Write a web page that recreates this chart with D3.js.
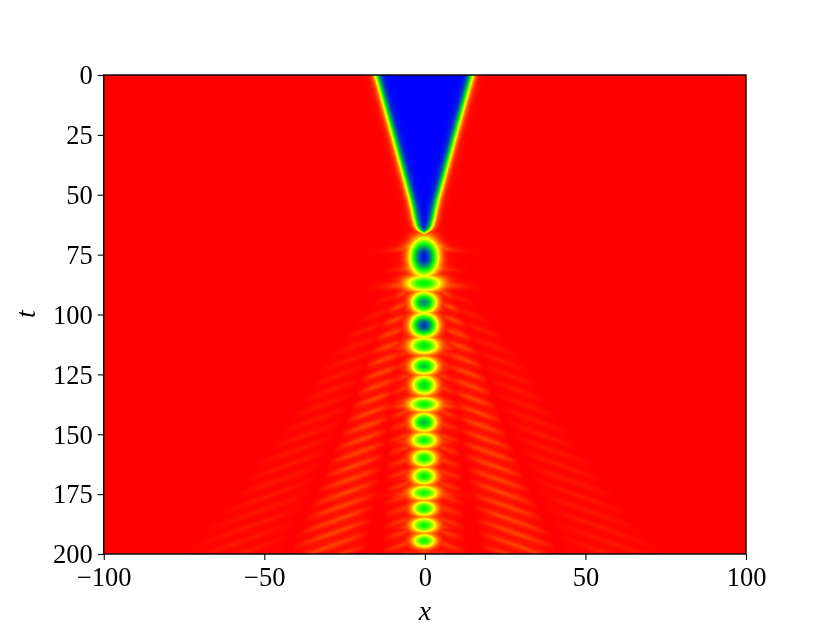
<!DOCTYPE html>
<html><head><meta charset="utf-8">
<script src="https://cdn.jsdelivr.net/npm/d3@7"></script>
<style>
html,body{margin:0;padding:0;background:#fff;width:830px;height:623px;overflow:hidden}
#wrap{position:relative;width:830px;height:623px}
canvas,svg{position:absolute;left:0;top:0}
text{font-family:"Liberation Serif",serif;fill:#000}
</style></head><body><div id="wrap"><canvas id="c" width="830" height="623"></canvas><svg id="s" width="830" height="623"></svg></div>
<script>
// tick labels
const xTicks=[-100,-50,0,50,100];
const tTicks=[0,25,50,75,100,125,150,175,200];
// colour stops of the field (low to high)
const colorStops=[0,0.5,0.75,1];
const colorNames=["#0000ff","#00ff00","#ffff00","#ff0000"];
// dark region: half-width (green contour) against t
const frontT=[0,26,52,56,60,63,64.7,65.7,66.5,67.5,69];
const frontHalf=[14.6,9.2,3.9,3.2,2.6,2.0,1.2,0,-1,-2.5,-5];
// pulsating core: centre time, half-width in x, half-height in t, depth, wing depth
const blobT=[76,72,80.5,87,95,104.5,113,121.5,129.5,137.5,145,152.5,160,167.5,174.5,181,188,194.5];
const blobX=[3.5,4.3,4.1,5.0,3.3,3.4,4.0,3.5,3.3,4.2,3.3,3.6,3.3,3.3,3.9,3.3,3.6,3.2];
const blobH=[6.2,2.2,2.0,3.0,3.7,4.0,3.1,3.1,3.5,2.7,3.3,2.9,3.1,3.1,2.7,2.8,2.8,2.6];
const blobD=[0.96,0.45,0.45,0.52,0.72,0.88,0.54,0.6,0.56,0.51,0.63,0.5,0.51,0.52,0.49,0.51,0.5,0.49];
const blobW=[0.06,0.16,0.12,0.18,0.08,0.06,0.15,0.12,0.1,0.17,0.1,0.14,0.12,0.1,0.17,0.12,0.13,0.1];
// ripple stripes: t where a stripe would meet x=0
const stripeT=[78,83,88,93,98,103,108,113,118,123,128,133,138,143,148,153,158,163,168,173,178,183,188,193,198];
// ripple fans: edges of the fans in |x| against t
const bandT=[85,100,120,140,170,200];
const outerIn=[4,10,17,24,34,44];
const outerOut=[9,19,31,40,56,74];
const innerIn=[3,5,7,10,14,18];
const innerOut=[7,12,18,23,32,42];
const coreOut=[0,6,10,11,12,13];

const W=830,H=623,L=103.75,R=746,T=75,B=554;
const x=d3.scaleLinear().domain([-100,100]).range([L,R]);
const y=d3.scaleLinear().domain([0,200]).range([T,B]);
const color=d3.scaleLinear().domain(colorStops).range(colorNames).clamp(true);
const front=d3.scaleLinear().domain(frontT).range(frontHalf).clamp(true);
const oi=d3.scaleLinear().domain(bandT).range(outerIn).clamp(true);
const oo=d3.scaleLinear().domain(bandT).range(outerOut).clamp(true);
const ii=d3.scaleLinear().domain(bandT).range(innerIn).clamp(true);
const io=d3.scaleLinear().domain(bandT).range(innerOut).clamp(true);
const co=d3.scaleLinear().domain(bandT).range(coreOut).clamp(true);

function bump(v,a,b){
  if(b<=a||v<=a||v>=b) return 0;
  const s=(v-a)/(b-a);
  return Math.pow(Math.sin(Math.PI*s),0.8);
}
function field(px,pt){
  const ax=Math.abs(px);
  let v=1;
  if(pt<73) v=0.5+0.5*Math.tanh((ax-front(pt))/1.4);
  let low=0;
  blobT.forEach((t0,i)=>{
    const dt=pt-t0;
    if(Math.abs(dt)>16) return;
    const rx=ax/blobX[i], rt=dt/blobH[i];
    const r2=rx*rx+rt*rt;
    const core=blobD[i]*Math.exp(-0.8*Math.pow(r2,1.05));
    const wing=blobW[i]*Math.exp(-Math.pow(ax/(blobX[i]*1.8),2)-Math.pow((dt-0.1*ax)/(blobH[i]*0.55),2));
    const tail=0.08*Math.exp(-Math.pow(ax/2.6,2)-Math.pow((Math.abs(dt)-blobH[i]*1.75)/0.5,2));
    low=Math.max(low,core,wing,tail);
  });
  v=Math.min(v,1-low);
  if(pt>78){
    const eO=bump(ax,oi(pt),oo(pt))*0.016;
    const eI=bump(ax,ii(pt),io(pt))*0.05;
    const eC=bump(ax,0,co(pt))*0.04;
    const amp=Math.max(eO,eI,eC);
    if(amp>0){
      let s=0;
      for(const t0 of stripeT){
        const d=(pt-t0-0.47*ax)/1.2;
        if(Math.abs(d)<3) s=Math.max(s,Math.exp(-d*d));
      }
      v=Math.min(v,1-amp*(0.3+s));
    }
  }
  return v;
}
// heat field
const ctx=document.getElementById("c").getContext("2d");
ctx.fillStyle="#fff";ctx.fillRect(0,0,W,H);
const pw=Math.ceil(R-L), ph=Math.ceil(B-T);
const img=ctx.createImageData(pw,ph);
for(let j=0;j<ph;j++){
  const pt=y.invert(T+j+0.5);
  for(let i=0;i<pw;i++){
    const px=x.invert(L+i+0.5);
    const c=d3.rgb(color(field(px,pt)));
    const k=(j*pw+i)*4;
    img.data[k]=c.r;img.data[k+1]=c.g;img.data[k+2]=c.b;img.data[k+3]=255;
  }
}
ctx.putImageData(img,Math.floor(L),T);
// axes
const svg=d3.select("#s");
const fmt=d=>String(d).replace("-","\u2212");
const gx=svg.append("g").attr("transform",`translate(0,${B})`)
 .call(d3.axisBottom(x).tickValues(xTicks).tickFormat(fmt).tickSize(6).tickPadding(7));
const gy=svg.append("g").attr("transform",`translate(${L},0)`)
 .call(d3.axisLeft(y).tickValues(tTicks).tickFormat(fmt).tickSize(6).tickPadding(5));
[gx,gy].forEach(g=>{
  g.select(".domain").remove();
  g.selectAll("line").attr("stroke","#000").attr("stroke-width",1.1);
  g.selectAll("text").attr("font-size",26.5).attr("font-family",'"Liberation Serif",serif').attr("fill","#000");
});
gx.selectAll("text").attr("dy","0.72em");
gy.selectAll("text").attr("dy","0.33em");
svg.append("rect").attr("x",L).attr("y",T).attr("width",R-L).attr("height",B-T)
 .attr("fill","none").attr("stroke","#000").attr("stroke-width",1.4);
svg.append("text").attr("x",425).attr("y",620).attr("text-anchor","middle")
 .attr("font-size",28).attr("font-style","italic").text("x");
svg.append("text").attr("transform","translate(35,314) rotate(-90)").attr("text-anchor","middle")
 .attr("font-size",28).attr("font-style","italic").text("t");
</script></body></html>
